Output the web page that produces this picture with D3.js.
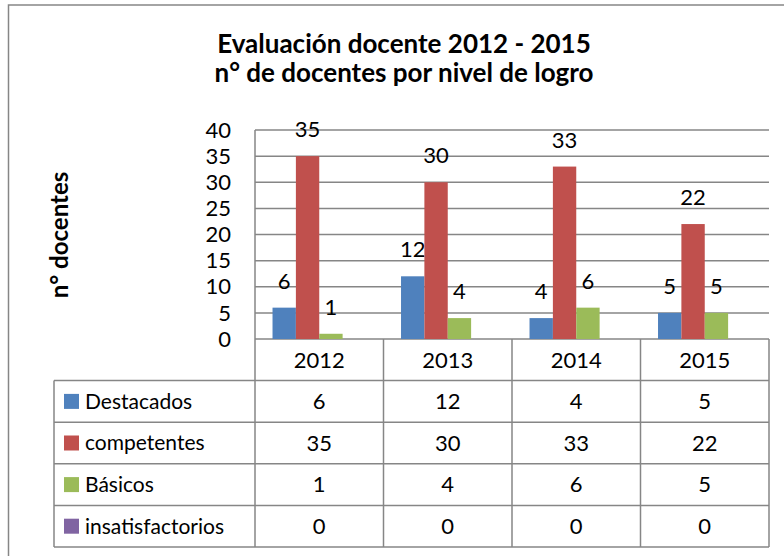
<!DOCTYPE html>
<html>
<head>
<meta charset="utf-8">
<script src="https://cdn.jsdelivr.net/npm/d3@7"></script>
<style>
  body { margin: 0; background: #fff; }
  text { font-family: Lato, "Open Sans", sans-serif; fill: #000; }
</style>
</head>
<body>
<div id="chart"></div>
<script>
// data
const years = ["2012", "2013", "2014", "2015"];
const seriesNames = ["Destacados", "competentes", "Básicos", "insatisfactorios"];
const seriesColors = ["#4F81BD", "#C0504D", "#9BBB59", "#8064A2"];
const destacados = [6, 12, 4, 5];
const competentes = [35, 30, 33, 22];
const basicos = [1, 4, 6, 5];
const insatisfactorios = [0, 0, 0, 0];
const yTicks = [0, 5, 10, 15, 20, 25, 30, 35, 40];

const seriesValues = [destacados, competentes, basicos, insatisfactorios];

const width = 784;
const height = 556;
const gridColor = "#868686";
const fontSize = 22;

const svg = d3.select("#chart")
    .append("svg")
    .attr("width", width)
    .attr("height", height);

// outer chart frame (right and bottom run past the window)
svg.append("rect")
    .attr("x", 8.5)
    .attr("y", 5)
    .attr("width", 800)
    .attr("height", 600)
    .attr("fill", "none")
    .attr("stroke", gridColor)
    .attr("stroke-width", 1.5);

// Plot area
const plotLeft = 255, plotRight = 769;
const x = d3.scaleBand().domain(years).range([plotLeft, plotRight]);
const xInner = d3.scaleBand()
    .domain(seriesNames)
    .range([0, x.bandwidth()])
    .paddingInner(0)
    .paddingOuter(0.75);
const y = d3.scaleLinear().domain([0, 40]).range([339, 130]);

// gridlines
svg.append("g")
    .selectAll("line")
    .data(yTicks)
    .join("line")
    .attr("x1", plotLeft)
    .attr("x2", plotRight)
    .attr("y1", d => y(d))
    .attr("y2", d => y(d))
    .attr("stroke", gridColor)
    .attr("stroke-width", 1.5);

// y tick labels
svg.append("g")
    .selectAll("text")
    .data(yTicks)
    .join("text")
    .attr("x", 231)
    .attr("y", d => y(d))
    .attr("dy", "0.35em")
    .attr("text-anchor", "end")
    .style("font-size", fontSize + "px")
    .text(d => d);

// bars
const groups = svg.append("g")
    .selectAll("g")
    .data(seriesNames)
    .join("g")
    .attr("fill", (d, i) => seriesColors[i]);

groups.selectAll("rect")
    .data((s, i) => years.map((yr, j) => ({ s, yr, v: seriesValues[i][j] })))
    .join("rect")
    .attr("x", d => x(d.yr) + xInner(d.s))
    .attr("width", xInner.bandwidth())
    .attr("y", d => y(d.v))
    .attr("height", d => y(0) - y(d.v));

// data labels (series with non-zero values)
groups.filter((s, i) => i < 3)
    .selectAll("text")
    .data((s, i) => years.map((yr, j) => ({ s, yr, v: seriesValues[i][j] })))
    .join("text")
    .attr("x", d => x(d.yr) + xInner(d.s) + xInner.bandwidth() / 2)
    .attr("y", d => y(d.v) - 19)
    .attr("text-anchor", "middle")
    .style("font-size", fontSize + "px")
    .text(d => d.v);

// data table
const tableLeft = 54, tableBottom = 547;
const headerTop = y(0);
const rowH = (tableBottom - headerTop) / 5;
const rowY = i => headerTop + rowH * (i + 1);

const table = svg.append("g")
    .attr("stroke", gridColor)
    .attr("stroke-width", 1.5);

// horizontal rules
table.selectAll("line.h")
    .data(d3.range(5))
    .join("line")
    .attr("class", "h")
    .attr("x1", tableLeft)
    .attr("x2", plotRight)
    .attr("y1", i => rowY(i))
    .attr("y2", i => rowY(i));

// vertical rules
const vx = [plotLeft].concat(years.map(yr => x(yr) + x.bandwidth()));
table.selectAll("line.v")
    .data(vx)
    .join("line")
    .attr("class", "v")
    .attr("x1", d => d)
    .attr("x2", d => d)
    .attr("y1", (d, i) => i === 0 ? y(40) : headerTop)
    .attr("y2", tableBottom);

table.append("line")
    .attr("x1", tableLeft).attr("x2", tableLeft)
    .attr("y1", rowY(0)).attr("y2", tableBottom);

// year header
svg.append("g")
    .selectAll("text")
    .data(years)
    .join("text")
    .attr("x", d => x(d) + x.bandwidth() / 2)
    .attr("y", headerTop + rowH / 2)
    .attr("dy", "0.35em")
    .attr("text-anchor", "middle")
    .style("font-size", fontSize + "px")
    .text(d => d);

// rows: legend key + values
const rows = svg.append("g")
    .selectAll("g")
    .data(seriesNames)
    .join("g")
    .attr("transform", (d, i) => `translate(0, ${rowY(i) + rowH / 2})`);

rows.append("rect")
    .attr("x", 64)
    .attr("y", -7.5)
    .attr("width", 15)
    .attr("height", 15)
    .attr("fill", (d, i) => seriesColors[i]);

rows.append("text")
    .attr("x", 85)
    .attr("dy", "0.35em")
    .style("font-size", "21px")
    .text(d => d);

rows.selectAll("text.val")
    .data((s, i) => years.map((yr, j) => ({ yr, v: seriesValues[i][j] })))
    .join("text")
    .attr("class", "val")
    .attr("x", d => x(d.yr) + x.bandwidth() / 2)
    .attr("dy", "0.35em")
    .attr("text-anchor", "middle")
    .style("font-size", fontSize + "px")
    .text(d => d.v);

// titles
const title = svg.append("text")
    .attr("x", 404)
    .attr("text-anchor", "middle")
    .style("font-size", "26px")
    .style("font-weight", "bold");
title.append("tspan").attr("x", 404).attr("y", 53).text("Evaluación docente 2012 - 2015");
title.append("tspan").attr("x", 404).attr("y", 82).text("n° de docentes por nivel de logro");

svg.append("text")
    .attr("transform", "translate(68, 235) rotate(-90)")
    .attr("text-anchor", "middle")
    .style("font-size", "24px")
    .style("font-weight", "bold")
    .text("n° docentes");
</script>
</body>
</html>
